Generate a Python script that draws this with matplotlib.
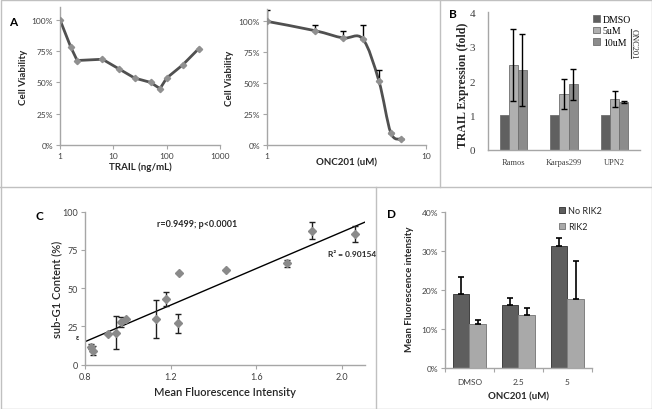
import matplotlib
matplotlib.use('Agg')
import matplotlib.pyplot as plt
import numpy as np
from matplotlib.path import Path
from matplotlib.patches import PathPatch, Rectangle
from matplotlib.lines import Line2D

plt.rcParams['font.family'] = ['Lato', 'DejaVu Sans']

# ---- data ----
# A (left): TRAIL dose response
trail_dose = [1, 1.6, 2.1, 6.25, 12.5, 25, 50, 75, 100, 200, 400]
trail_viab = [1.0, 0.78, 0.675, 0.685, 0.61, 0.535, 0.50, 0.45, 0.535, 0.64, 0.77]

# A (right): ONC201 dose response
onc_dose = [1, 2, 3, 4, 5.05, 6, 7]
onc_viab = [1.0, 0.925, 0.866, 0.858, 0.52, 0.10, 0.048]
onc_err = [0.094, 0.043, 0.059, 0.11, 0.086, 0.0, 0.0]

# B: TRAIL expression
cell_lines = ['Ramos', 'Karpas299', 'UPN2']
b_series = ['DMSO', '5uM', '10uM']
b_vals = [[1.0, 1.0, 1.0],
          [2.47, 1.62, 1.48],
          [2.32, 1.90, 1.38]]
b_errs = [[0.0, 0.0, 0.0],
          [1.05, 0.44, 0.24],
          [1.05, 0.45, 0.03]]

# C: sub-G1 vs MFI
mfi = [0.826, 0.839, 0.906, 0.945, 0.967, 0.99, 1.13, 1.177, 1.236, 1.239, 1.458, 1.745, 1.86, 2.06]
subg1 = [11.8, 9.2, 20.0, 20.9, 28.0, 29.8, 29.8, 42.9, 27.0, 60.1, 61.7, 66.2, 87.6, 85.4]
subg1_err = [1.5, 3.0, 0, 10.7, 3.5, 0, 12.3, 4.4, 6.3, 0, 0, 2.2, 5.5, 5.4]
# trendline as drawn in the figure (slope, intercept)
trend = [59.8, -32.8]

# D: MFI with / without RIK2
d_groups = ['DMSO', '2.5', '5']
no_rik2 = [19.1, 16.2, 31.4]
no_rik2_err = [4.2, 1.8, 2.0]
rik2 = [11.4, 13.6, 17.8]
rik2_err = [1.1, 1.9, 9.8]

AXC = '#a6a6a6'
TXT = '#404040'

fig = plt.figure(figsize=(6.52, 4.10), dpi=100)


def px_axes(l, t, r, b):
    return fig.add_axes([l / 652, 1 - b / 410, (r - l) / 652, (b - t) / 410])


def style(ax, fs=6):
    for s in ['top', 'right']:
        ax.spines[s].set_visible(False)
    for s in ['left', 'bottom']:
        ax.spines[s].set_color(AXC)
        ax.spines[s].set_linewidth(1)
    ax.tick_params(which='both', direction='out', length=3, width=0.8, color=AXC,
                   labelsize=fs, labelcolor=TXT, pad=2)


def labels(ax, xl, yl, xpos, ypos, fs=7, family=None, weight='bold'):
    kw = dict(fontsize=fs, fontweight=weight, color='#262626')
    if family:
        kw['family'] = family
    ax.set_xlabel(xl, **kw)
    ax.set_ylabel(yl, **kw)
    ax.xaxis.set_label_coords(*xpos)
    ax.yaxis.set_label_coords(*ypos)
    ax.xaxis.label.set_va('center')
    ax.yaxis.label.set_va('center')


def smooth_line(ax, xs, ys, color, lw):
    # excel style smoothed line, computed in log-x space
    u = np.log10(np.array(xs, float))
    v = np.array(ys, float)
    n = len(u)
    verts = [(xs[0], ys[0])]
    codes = [Path.MOVETO]
    for i in range(n - 1):
        i0 = max(i - 1, 0)
        i3 = min(i + 2, n - 1)
        c1 = (u[i] + (u[i + 1] - u[i0]) / 6, v[i] + (v[i + 1] - v[i0]) / 6)
        c2 = (u[i + 1] - (u[i3] - u[i]) / 6, v[i + 1] - (v[i3] - v[i]) / 6)
        verts += [(10 ** c1[0], c1[1]), (10 ** c2[0], c2[1]), (xs[i + 1], ys[i + 1])]
        codes += [Path.CURVE4] * 3
    ax.add_patch(PathPatch(Path(verts, codes), fill=False, edgecolor=color, lw=lw,
                           transform=ax.transData, capstyle='round', joinstyle='round'))


pct = ['0%', '25%', '50%', '75%', '100%']

# ---- A left ----
a1 = px_axes(60, 8.3, 220, 146)
style(a1)
a1.set_xscale('log')
a1.set_xlim(1, 1000)
a1.set_ylim(0, 1.1)
a1.set_yticks([0, 0.25, 0.5, 0.75, 1.0], pct)
a1.set_xticks([1, 10, 100, 1000], ['1', '10', '100', '1000'])
a1.minorticks_off()
a1.plot(trail_dose, trail_viab, color='#505050', lw=2, solid_joinstyle='round', zorder=2)
a1.plot(trail_dose, trail_viab, ls='none', marker='D', ms=3.2, color='#909090', zorder=3)
labels(a1, 'TRAIL (ng/mL)', 'Cell Viability', (0.5, -0.152), (-0.231, 0.5))

# ---- A right ----
a2 = px_axes(267, 10, 426, 146)
style(a2)
a2.set_xscale('log')
a2.set_xlim(1, 10)
a2.set_ylim(0, 1.1)
a2.set_yticks([0, 0.25, 0.5, 0.75, 1.0], pct)
a2.set_xticks([1, 10], ['1', '10'])
a2.minorticks_off()
a2.errorbar(onc_dose, onc_viab, yerr=[np.zeros(len(onc_err)), onc_err], ls='none',
            ecolor='black', elinewidth=1, capsize=2, capthick=1, zorder=2)
smooth_line(a2, onc_dose, onc_viab, '#505050', 2)
a2.plot(onc_dose, onc_viab, ls='none', marker='D', ms=3.2, color='#909090', zorder=3)
labels(a2, 'ONC201 (uM)', 'Cell Viability', (0.5, -0.125), (-0.233, 0.5))

# ---- B ----
serif = ['Liberation Serif', 'DejaVu Serif']
b = px_axes(488, 13.3, 640, 150.7)
style(b, fs=8)
b.tick_params(length=0)
b.set_xlim(-0.5, 2.5)
b.set_ylim(0, 4)
b.set_yticks([0, 1, 2, 3, 4])
b.set_xticks([0, 1, 2], cell_lines)
for t in b.get_xticklabels():
    t.set_family(serif)
    t.set_fontsize(6)
for t in b.get_yticklabels():
    t.set_family(serif)
b.tick_params(axis='y', pad=9)
b.tick_params(axis='x', pad=6)
bcols = ['#606060', '#b0b0b0', '#8c8c8c']
bw = 0.178
x = np.arange(len(cell_lines))
handles = []
for k in range(3):
    bars = b.bar(x + (k - 1) * bw, b_vals[k], bw, color=bcols[k], edgecolor='#707070', lw=0.6,
                 label=b_series[k])
    if k > 0:
        b.errorbar(x + (k - 1) * bw, b_vals[k], yerr=b_errs[k], ls='none', ecolor='black',
                   elinewidth=1, capsize=2.5, capthick=1)
    handles.append(bars)
b.legend(handles=handles, loc='upper left', bbox_to_anchor=(593 / 652, 1 - 16 / 410),
         bbox_transform=fig.transFigure, frameon=False, prop={'family': serif, 'size': 7},
         handlelength=0.7, handleheight=0.7, handletextpad=0.3, labelspacing=0.25,
         borderpad=0, borderaxespad=0)
fig.add_artist(Line2D([630.5 / 652] * 2, [1 - 30 / 410, 1 - 59 / 410], color='#404040', lw=0.8))
fig.text(634 / 652, 1 - 44 / 410, 'ONC201', rotation=-90, ha='center', va='center',
         fontsize=6, family=serif, color='#262626')
labels(b, '', 'TRAIL Expression (fold)', (0.5, -0.1), (-0.166, 0.478), fs=8.5, family=serif)

# ---- C ----
c = px_axes(85, 212.7, 365, 365.7)
style(c, fs=6.5)
c.set_xlim(0.8, 2.107)
c.set_ylim(0, 100)
c.set_xticks([0.8, 1.2, 1.6, 2.0], ['0.8', '1.2', '1.6', '2.0'])
c.set_yticks([0, 25, 50, 75, 100])
xl = np.array([0.805, 2.107])
c.plot(xl, trend[0] * xl + trend[1], color='black', lw=1, zorder=2)
c.errorbar(mfi, subg1, yerr=subg1_err, ls='none', ecolor='#202020', elinewidth=1,
           capsize=2.5, capthick=1, zorder=3)
c.plot(mfi, subg1, ls='none', marker='D', ms=4, color='#8a8a8a', zorder=4)
c.text(0.402, 0.924, 'r=0.9499; p<0.0001', transform=c.transAxes, ha='center', va='center',
       fontsize=6.5, fontweight='bold', color='#262626')
c.text(0.954, 0.724, 'R\u00b2 = 0.90154', transform=c.transAxes, ha='center', va='center',
       fontsize=6, fontweight='bold', color='#262626', clip_on=False)
fig.text(77 / 652, 1 - 338 / 410, '\u03b5', fontsize=5, fontweight='bold', ha='center',
         va='center', color='#262626')
labels(c, 'Mean Fluorescence Intensity', 'sub-G1 Content (%)', (0.5, -0.178), (-0.1, 0.5),
       fs=8, weight='semibold')

# ---- D ----
d = px_axes(445, 213.3, 591.7, 369.3)
style(d, fs=6)
d.set_xlim(-0.5, 2.5)
d.set_ylim(0, 40)
d.set_yticks([0, 10, 20, 30, 40], ['0%', '10%', '20%', '30%', '40%'])
xd = np.arange(len(d_groups))
d.set_xticks(xd, d_groups)
d.set_xticks([-0.5, 0.5, 1.5, 2.5], minor=True)
d.tick_params(axis='x', which='major', length=0, pad=7)
dw = 0.34
h1 = d.bar(xd - dw / 2, no_rik2, dw, color='#5e5e5e', edgecolor='#404040', lw=0.7, label='No RIK2')
h2 = d.bar(xd + dw / 2, rik2, dw, color='#a9a9a9', edgecolor='#808080', lw=0.7, label='RIK2')
d.errorbar(xd - dw / 2, no_rik2, yerr=[np.zeros(3), no_rik2_err], ls='none', ecolor='black',
           elinewidth=1.2, capsize=2.5, capthick=1.2)
d.errorbar(xd + dw / 2, rik2, yerr=[np.zeros(3), rik2_err], ls='none', ecolor='black',
           elinewidth=1.2, capsize=2.5, capthick=1.2)
d.legend(handles=[h1, h2], loc='upper left', bbox_to_anchor=(559 / 652, 1 - 207 / 410),
         bbox_transform=fig.transFigure, frameon=False, prop={'size': 6.5},
         handlelength=0.7, handleheight=0.7, handletextpad=0.3, labelspacing=0.8,
         borderpad=0, borderaxespad=0, labelcolor='#262626')
labels(d, 'ONC201 (uM)', 'Mean Fluorescence intensity', (0.5, -0.176), (-0.239, 0.51))

# ---- panel letters ----
for lab, px, py in [('A', 13, 22), ('B', 453, 15), ('C', 39, 216.7), ('D', 391.7, 215)]:
    fig.text(px / 652, 1 - py / 410, lab, fontsize=8.5, fontweight='bold', ha='center',
             va='center', color='black')

# ---- frames ----
fc = '#c0c0c0'
fig.add_artist(Rectangle((0.5 / 652, 0.5 / 410), 651 / 652, 409 / 410, fill=False,
                         edgecolor=fc, lw=1, transform=fig.transFigure))
fig.add_artist(Line2D([0, 1], [1 - 188 / 410] * 2, color=fc, lw=1))
fig.add_artist(Line2D([439.5 / 652] * 2, [1 - 188 / 410, 1], color=fc, lw=1))
fig.add_artist(Line2D([376 / 652] * 2, [0, 1 - 188 / 410], color=fc, lw=1))

fig.savefig('out.png', dpi=100)
